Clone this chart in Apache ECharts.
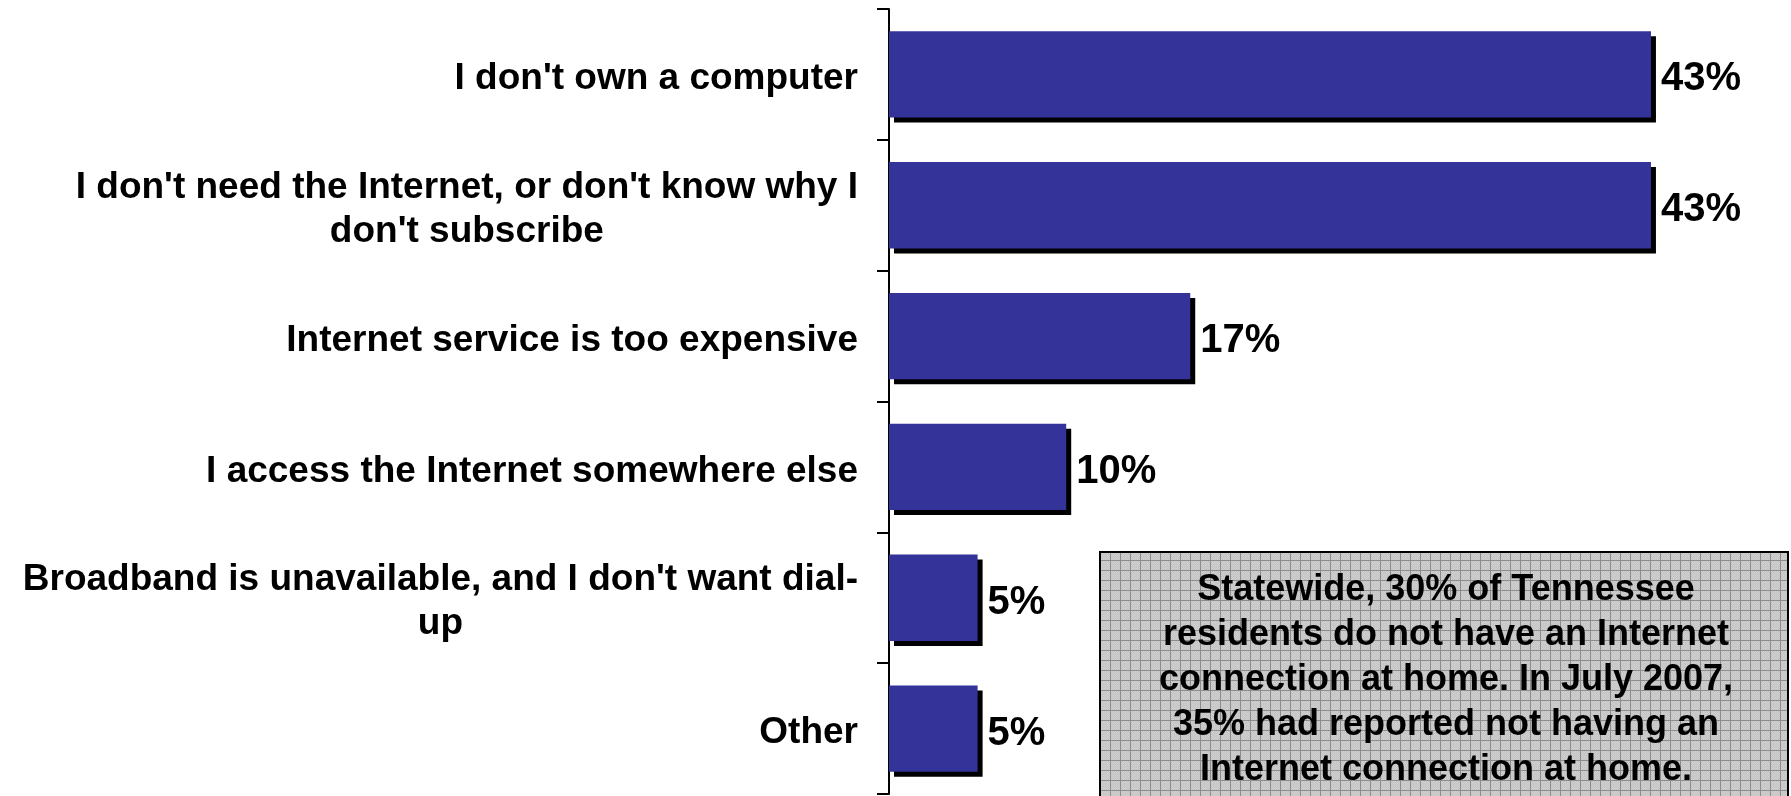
<!DOCTYPE html>
<html>
<head>
<meta charset="utf-8">
<script src="https://cdn.jsdelivr.net/npm/echarts@6/dist/echarts.min.js"></script>
<style>
html,body{margin:0;padding:0;background:#fff;}
#chart{width:1791px;height:796px;}
</style>
</head>
<body>
<div id="chart"></div>
<script>
var categories = [
  "I don't own a computer",
  "I don't need the Internet, or don't know why I\ndon't subscribe",
  "Internet service is too expensive",
  "I access the Internet somewhere else",
  "Broadband is unavailable, and I don't want dial-\nup",
  "Other"
];
var values = [43, 43, 17, 10, 5, 5];
var noteText = "Statewide, 30% of Tennessee\nresidents do not have an Internet\nconnection at home. In July 2007,\n35% had reported not having an\nInternet connection at home.";

var FONT = "'Liberation Sans', Arial, Helvetica, sans-serif";

function makePattern() {
  var c = document.createElement('canvas');
  c.width = 10; c.height = 10;
  var ctx = c.getContext('2d');
  ctx.fillStyle = '#c4c4c4';
  ctx.fillRect(0, 0, 10, 10);
  ctx.fillStyle = '#cfcfcf';
  for (var y = 0; y < 10; y++) {
    for (var x = (y % 2); x < 10; x += 2) {
      ctx.fillRect(x, y, 1, 1);
    }
  }
  ctx.fillStyle = '#8c8c8c';
  ctx.fillRect(0, 0, 10, 1);
  ctx.fillRect(0, 0, 1, 10);
  return c;
}

var chart = echarts.init(document.getElementById('chart'), null, {renderer: 'canvas'});
var option = {
  backgroundColor: '#ffffff',
  animation: false,
  grid: {left: 889, right: 16, top: 9, bottom: 2, containLabel: false, outerBoundsMode: 'none'},
  xAxis: {type: 'value', min: 0, max: 50, show: false},
  yAxis: {
    type: 'category',
    inverse: true,
    data: categories,
    axisLine: {show: true, lineStyle: {color: '#000', width: 2}},
    axisTick: {show: true, length: 12, lineStyle: {color: '#000', width: 2}},
    splitLine: {show: false},
    axisLabel: {
      margin: 31,
      padding: [9, 0, 0, 0],
      formatter: function (v) { return '{c|' + v + '}'; },
      rich: {
        c: {
          align: 'center',
          fontSize: 37,
          fontWeight: 'bold',
          fontFamily: FONT,
          color: '#000',
          lineHeight: 44
        }
      }
    }
  },
  series: [{
    type: 'bar',
    data: values,
    barWidth: '66%',
    itemStyle: {
      color: '#333399',
      borderWidth: 0,
      shadowColor: '#000',
      shadowOffsetX: 5,
      shadowOffsetY: 5,
      shadowBlur: 0
    },
    label: {
      show: true,
      position: 'right',
      distance: 10,
      offset: [0, 5],
      formatter: '{c}%',
      fontSize: 40,
      fontWeight: 'bold',
      fontFamily: FONT,
      color: '#000'
    }
  }],
  graphic: [{
    type: 'group',
    children: [{
      type: 'rect',
      shape: {x: 1100, y: 552, width: 688, height: 260},
      style: {fill: {image: makePattern(), repeat: 'repeat'}, stroke: '#000', lineWidth: 2}
    }, {
      type: 'text',
      x: 1446,
      y: 680,
      style: {
        text: noteText,
        fill: '#000',
        fontSize: 36,
        fontWeight: 'bold',
        fontFamily: FONT,
        font: "bold 36px " + FONT,
        align: 'center',
        verticalAlign: 'middle',
        textAlign: 'center',
        textVerticalAlign: 'middle',
        lineHeight: 45
      }
    }]
  }]
};
chart.setOption(option);
</script>
</body>
</html>
